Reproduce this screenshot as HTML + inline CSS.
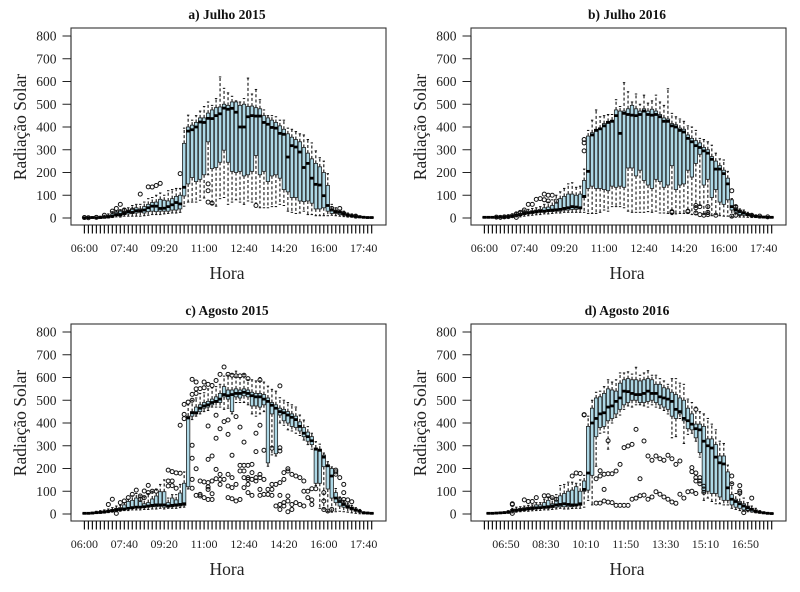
<!DOCTYPE html>
<html lang="pt">
<head>
<meta charset="utf-8">
<title>Radiação Solar</title>
<style>
html,body{margin:0;padding:0;background:#fff;}
svg{display:block;font-family:"Liberation Serif",serif;filter:blur(0.3px);}
.tit{font-size:13.5px;font-weight:bold;fill:#111;text-anchor:middle;}
.axt{font-size:17.5px;fill:#222;text-anchor:middle;}
.yl{font-size:13.5px;fill:#222;text-anchor:end;}
.xl{font-size:12px;fill:#222;text-anchor:middle;}
</style>
</head>
<body>
<svg id="chart" width="800" height="592" viewBox="0 0 800 592" xmlns="http://www.w3.org/2000/svg">
<rect x="0" y="0" width="800" height="592" fill="#fff"/>
<g>
<text class="tit" x="227" y="19">a) Julho 2015</text>
<text class="tit" x="627" y="19">b) Julho 2016</text>
<text class="tit" x="227" y="315">c) Agosto 2015</text>
<text class="tit" x="627" y="315">d) Agosto 2016</text>
</g>
<g>
<text class="axt" x="227" y="279">Hora</text>
<text class="axt" x="627" y="279">Hora</text>
<text class="axt" x="227" y="575">Hora</text>
<text class="axt" x="627" y="575">Hora</text>
<text class="axt" transform="translate(26,127) rotate(-90)">Radiação Solar</text>
<text class="axt" transform="translate(426,127) rotate(-90)">Radiação Solar</text>
<text class="axt" transform="translate(26,423) rotate(-90)">Radiação Solar</text>
<text class="axt" transform="translate(426,423) rotate(-90)">Radiação Solar</text>
</g>
</svg>
<script>
// Shared axis data
const yTickValues = [0,100,200,300,400,500,600,700,800];
const boxCount = 73;
const xLabelsJuly = ['06:00','07:40','09:20','11:00','12:40','14:20','16:00','17:40'];
const xLabelIndexJuly = [0,10,20,30,40,50,60,70];
const xLabelsAug16 = ['06:50','08:30','10:10','11:50','13:30','15:10','16:50'];
const xLabelIndexAug16 = [6,16,26,36,46,56,66];

// a) Julho 2015
const a_low = [0,0,0,0,0,0,0,2,5,4,8,8,8,8,8,10,12,15,15,15,18,20,22,22,25,
52,70,70,70,78,88,190,60,52,85,90,60,70,80,70,60,75,70,65,45,45,45,50,50,60,55,30,25,20,22,30,15,15,10,10,10,10,
12,10,8,6,4,3,2,1,0,0,0];
const a_q1 = [0,0,1,0,1,1,2,5,10,8,15,18,20,22,25,22,28,30,28,30,30,30,35,35,40,
97,150,178,160,170,190,335,217,222,245,298,245,205,200,205,185,190,205,275,190,205,160,185,190,175,125,115,90,90,75,72,75,65,40,40,45,30,
20,20,15,12,8,5,4,2,1,1,1];
const a_median = [1,1,2,1,2,3,5,8,15,15,20,28,25,32,32,35,45,52,52,42,43,50,58,68,62,
135,382,388,400,422,420,438,437,450,458,483,478,482,465,400,400,445,450,448,448,420,412,398,395,372,368,268,318,312,290,222,240,175,148,145,98,55,
35,28,25,18,12,10,6,5,3,2,2];
const a_q3 = [3,3,4,2,5,8,12,18,25,30,30,35,38,45,40,50,60,68,70,82,78,75,85,95,100,
328,400,408,420,440,440,461,475,485,488,500,495,510,510,495,500,490,492,485,480,450,440,430,420,405,390,370,355,345,335,310,285,260,240,225,200,143,
40,35,30,25,18,14,10,8,5,4,3];
const a_high = [4,4,6,4,8,12,18,28,30,35,40,45,55,60,60,70,85,90,100,110,100,120,125,130,130,
395,452,430,450,470,490,510,495,525,620,570,550,535,515,510,525,615,545,565,520,475,450,450,445,430,430,395,390,380,370,365,345,330,295,265,250,195,
60,45,35,30,22,18,14,10,7,5,4];
const a_outliers = [[0,2],[1,1],[3,3],[5,12],[7,30],[8,42],[9,60],[9,28],[10,35],[12,35],[14,105],[16,137],[17,136],[18,143],[19,152],[24,195],[31,150],[31,120],[31,70],[32,65],[43,55],[62,42],[64,42],[65,20],[68,8]];

// b) Julho 2016
const b_low = [1,1,1,1,1,1,2,3,5,5,8,10,12,14,15,18,18,20,22,22,25,25,25,25,25,
25,20,20,20,25,35,30,50,50,50,45,30,25,25,25,25,28,25,30,22,22,20,15,18,20,20,20,15,15,55,15,15,10,15,10,8,8,
5,4,4,4,3,2,2,1,1,1,1];
const b_q1 = [2,2,2,2,3,3,3,5,8,10,15,18,20,22,25,25,28,28,30,30,35,35,38,38,40,
90,130,140,130,130,125,120,140,135,140,135,220,220,185,210,165,145,130,170,160,135,145,230,125,145,150,210,180,240,280,145,170,90,125,70,60,80,
35,25,15,12,10,6,4,3,3,2,2];
const b_median = [3,3,3,4,4,4,5,8,12,15,20,22,25,28,30,30,33,35,36,38,42,45,50,48,45,
95,205,365,385,392,405,420,425,450,372,460,455,452,450,455,470,455,452,455,445,425,425,405,400,385,378,350,335,318,310,295,285,258,215,215,195,150,
50,35,28,22,15,10,7,5,4,3,3];
const b_q3 = [4,4,4,5,5,6,8,12,18,20,28,30,32,35,38,45,48,55,65,85,95,105,105,100,105,
165,360,375,390,395,415,425,430,475,470,470,480,495,480,470,480,470,478,470,455,440,435,415,410,395,390,365,350,340,330,310,300,270,250,230,210,175,
80,45,35,28,20,14,10,7,5,4,4];
const b_high = [5,5,6,6,7,9,12,18,25,28,35,38,42,45,50,60,70,80,100,115,130,150,155,135,140,
215,385,430,475,445,450,455,455,520,490,595,555,510,545,500,540,505,515,540,510,495,568,460,445,435,425,405,400,385,350,345,335,320,285,260,255,205,
85,55,40,35,25,18,14,10,7,6,5];
const b_outliers = [[3,4],[4,3],[5,5],[6,6],[7,10],[8,18],[8,3],[9,25],[10,35],[11,60],[12,60],[13,82],[14,85],[15,105],[15,80],[16,100],[16,75],[17,100],[18,75],[25,345],[25,330],[25,295],[47,28],[47,25],[51,30],[51,28],[53,55],[53,45],[53,22],[54,50],[54,15],[55,12],[56,50],[56,25],[56,15],[58,12],[62,120],[62,8],[63,50],[63,12],[64,18],[67,12],[69,8],[71,5]];

// c) Agosto 2015
const c_low = [0,0,1,2,3,4,6,8,10,12,15,15,18,18,18,20,20,22,22,25,22,25,25,25,28,
30,110,415,430,440,450,455,470,470,470,460,465,440,490,490,490,480,440,430,440,450,210,260,255,400,390,370,365,355,345,325,305,285,125,25,22,10,
8,10,12,10,8,5,3,1,1,1,0];
const c_q1 = [1,1,2,3,4,6,8,12,14,16,18,22,25,26,28,28,30,32,32,34,30,30,32,34,35,
38,120,430,440,450,465,470,480,490,490,515,505,450,515,510,520,515,475,475,470,480,225,440,265,435,410,400,385,380,365,340,320,305,135,135,208,110,
70,50,35,30,25,18,12,8,3,2,1];
const c_median = [3,3,4,6,7,9,12,15,18,20,22,25,28,30,30,32,35,38,40,40,40,35,38,40,42,
45,422,445,445,465,475,480,490,495,505,525,520,525,530,530,535,530,520,515,515,505,495,478,465,450,445,435,425,415,385,355,340,322,285,280,250,212,
167,70,55,42,32,25,18,12,5,4,3];
const c_q3 = [4,4,6,8,10,13,16,20,25,28,40,55,60,70,55,45,50,66,79,98,98,50,70,62,92,
135,430,450,470,480,490,495,505,515,530,560,545,545,550,545,550,545,535,530,530,525,510,490,480,465,460,450,440,430,405,380,360,340,290,285,259,215,
200,94,65,50,40,30,22,15,8,6,5];
const c_high = [6,6,8,12,15,18,22,28,35,38,50,65,80,90,80,75,90,100,110,130,150,70,85,85,130,
185,480,500,510,530,533,550,555,560,570,606,610,615,628,600,614,590,590,585,600,580,562,548,540,511,500,490,480,470,435,413,384,355,318,307,268,230,
207,112,75,60,48,38,28,20,10,8,6];
const c_outliers = [[6,42],[7,65],[8,3],[9,50],[10,57],[11,72],[12,86],[13,105],[14,79],[14,65],[15,101],[15,72],[16,126],[16,94],[17,100],[18,100],[21,193],[22,186],[23,181],[24,179],[21,145],[22,145],[21,123],[22,125],[23,113],[24,390],[25,482],[25,438],[25,419],
[27,302],[27,245],[27,152],[27,113],[28,199],[27,592],[28,580],[26,492],[27,526],[27,500],[28,550],[28,530],[29,551],[30,555],[30,580],[31,570],[32,565],[33,587],[34,614],[35,646],[36,614],[37,610],[38,607],[39,607],[40,610],[41,595],[44,589],
[31,387],[33,434],[33,333],[34,375],[35,406],[36,413],[36,350],[38,428],[39,382],[40,316],[43,355],[43,274],[44,390],[45,280],[47,289],[49,563],[49,291],[49,277],
[28,82],[29,86],[29,79],[30,72],[31,64],[32,64],[32,89],[31,108],[31,119],[29,145],[30,141],[31,138],[32,145],[31,240],[32,255],[33,196],[34,174],[34,152],[33,155],[34,130],[35,152],[36,174],[36,123],[37,160],[37,116],[38,130],[36,72],[37,67],[38,57],[39,64],[37,258],[39,214],[40,214],[41,214],[42,218],[39,189],[40,189],[40,160],[41,160],[41,152],[42,152],[42,182],[43,160],[43,145],[44,174],[44,160],[40,116],[41,130],[42,82],[41,94],[44,108],[44,82],[45,86],[45,152],[46,108],[47,108],[47,82],[46,86],[47,130],[48,130],[49,138],[49,82],[50,182],[50,152],[51,199],[51,189],[52,174],[53,167],[54,160],[51,79],[50,50],[49,42],[48,35],[49,20],[50,35],[51,10],[52,20],[53,50],[52,42],[51,57],[54,42],[55,35],[56,100],[56,72],[57,62],[57,42],[55,145],[55,100],[57,111],[58,111],[60,94],[60,57],[60,20],[61,13],[62,20],[63,193],[63,185],[63,175],[64,160],[65,130],[65,94],[65,64],[64,64],[66,62],[67,54]];

// d) Agosto 2016
const d_low = [null,1,1,1,2,3,3,5,8,10,12,12,14,15,16,18,18,20,22,25,22,22,24,25,25,
30,60,40,210,355,360,285,400,425,435,460,475,470,480,480,475,470,480,470,465,455,440,335,340,420,310,350,355,320,250,60,70,55,45,45,40,40,
25,20,15,12,10,8,5,3,2,1,1];
const d_q1 = [null,2,2,3,3,4,5,10,12,14,16,18,20,22,24,25,25,28,30,32,32,32,32,35,38,
100,105,170,340,380,385,410,420,440,460,480,490,500,500,490,490,495,500,490,480,470,460,430,420,440,410,375,370,335,270,95,100,90,90,75,60,60,
40,30,25,18,15,10,7,4,3,2,1];
const d_median = [null,3,3,4,5,6,8,15,16,18,20,23,25,27,28,30,32,35,40,42,45,42,40,40,45,
108,180,400,420,440,445,470,475,495,510,540,538,530,525,525,530,540,530,530,515,510,505,495,460,450,420,410,395,375,370,320,300,290,250,225,220,115,
65,55,45,35,28,20,12,8,5,3,2];
const d_q3 = [null,4,4,5,6,8,12,20,22,25,28,30,32,40,40,50,60,45,60,80,90,100,105,120,100,
145,385,465,510,515,530,550,545,540,575,590,595,590,590,585,590,595,590,570,570,555,550,535,525,510,500,465,440,395,395,385,330,330,305,255,255,185,
85,65,55,45,35,25,18,10,7,5,3];
const d_high = [null,5,5,6,8,10,15,25,30,32,35,38,40,50,50,65,75,70,85,125,130,140,140,135,150,
170,430,500,535,540,560,590,580,590,620,620,625,615,645,610,620,630,610,610,595,585,570,595,595,575,570,505,490,470,450,440,420,395,370,320,310,215,
135,90,85,70,50,35,25,15,10,7,5];
const d_outliers = [[7,45],[7,42],[7,3],[10,62],[11,55],[12,55],[13,72],[15,80],[16,80],[17,72],[18,65],[22,167],[23,180],[24,178],[25,437],[25,435],
[28,48],[29,48],[30,57],[31,52],[32,50],[33,38],[34,38],[35,38],[36,38],[37,65],[38,70],[39,80],[40,83],[41,65],[42,75],[43,98],[44,87],[45,75],[46,65],[47,53],[48,47],[49,87],[50,70],[51,98],[52,100],
[28,155],[29,190],[29,167],[30,175],[31,177],[32,177],[33,189],[34,218],[30,108],[31,322],
[35,292],[36,299],[37,306],[38,372],[40,321],[39,155],[41,255],[42,236],[43,255],[44,243],[45,236],[46,258],[47,243],[48,218],[49,233],
[52,204],[52,186],[53,180],[53,160],[53,145],[54,160],[54,145],[54,133],[55,122],[55,110],[55,95],[53,90],[53,460],[62,167],[62,133],[64,125],[64,100],[64,92],[65,6],[67,70],[66,25]];

const SVGNS = 'http://www.w3.org/2000/svg';
const svg = document.getElementById('chart');

function el(parent, tag, attrs) {
  const e = document.createElementNS(SVGNS, tag);
  for (const k in attrs) e.setAttribute(k, attrs[k]);
  parent.appendChild(e);
  return e;
}

function drawPanel(name, ox, oy, low, q1, median, q3, high, outliers, xLabels, xLabelIndex, labelShift) {
  const xScale = i => ox + 84.4 + 3.99 * i;
  const yScale = v => oy + 218 - 0.2275 * v;
  const halfBox = 1.7, halfCap = 1.2;

  const panel = el(svg, 'g', {});
  
  

  // Boxplots
  for (let i = 0; i < boxCount; i++) {
    if (median[i] === null) continue;
    const x = xScale(i);
    const box = el(panel, 'g', {});
    
    
    el(box, 'line', {x1:x, x2:x, y1:yScale(q3[i]), y2:yScale(high[i]), stroke:'#111', 'stroke-width':1.1, 'stroke-dasharray':'3 2.2'});
    el(box, 'line', {x1:x, x2:x, y1:yScale(q1[i]), y2:yScale(low[i]), stroke:'#111', 'stroke-width':1.1, 'stroke-dasharray':'3 2.2'});
    el(box, 'line', {x1:x-halfCap, x2:x+halfCap, y1:yScale(high[i]), y2:yScale(high[i]), stroke:'#111', 'stroke-width':1});
    el(box, 'line', {x1:x-halfCap, x2:x+halfCap, y1:yScale(low[i]), y2:yScale(low[i]), stroke:'#111', 'stroke-width':1});
    el(box, 'rect', {x:x-halfBox, y:yScale(q3[i]), width:halfBox*2, height:Math.max(0.3, yScale(q1[i])-yScale(q3[i])), fill:'#add8e6', stroke:'#222', 'stroke-width':0.8});
    el(box, 'line', {x1:x-halfBox-0.2, x2:x+halfBox+0.2, y1:yScale(median[i]), y2:yScale(median[i]), stroke:'#000', 'stroke-width':2.8});
  }

  // Outliers
  const outGroup = el(panel, 'g', {});
  
  
  outliers.forEach(function (p) {
    const c = el(outGroup, 'circle', {cx:xScale(p[0]), cy:yScale(p[1]), r:2, fill:'none', stroke:'#111', 'stroke-width':1});
    
    
  });

  // Frame
  const frame = el(panel, 'rect', {x:ox+71, y:oy+28, width:315, height:197, fill:'none', stroke:'#333', 'stroke-width':1.1});
  
  

  // Y axis
  const yAxis = el(panel, 'g', {});
  
  
  el(yAxis, 'line', {x1:ox+71, x2:ox+71, y1:yScale(0), y2:yScale(800), stroke:'#222', 'stroke-width':1});
  yTickValues.forEach(function (v) {
    el(yAxis, 'line', {x1:ox+62.5, x2:ox+71, y1:yScale(v), y2:yScale(v), stroke:'#222', 'stroke-width':1});
    const t = el(yAxis, 'text', {x:ox+56.5, y:yScale(v)+4.5, class:'yl'});
    t.textContent = String(v);
    
    
  });

  // X axis
  const xAxis = el(panel, 'g', {});
  
  
  for (let i = 0; i < boxCount; i++) {
    el(xAxis, 'line', {x1:xScale(i), x2:xScale(i), y1:oy+225, y2:oy+233.5, stroke:'#111', 'stroke-width':1.2});
  }
  xLabels.forEach(function (lab, k) {
    const t = el(xAxis, 'text', {x:xScale(xLabelIndex[k])+labelShift, y:oy+252, class:'xl'});
    t.textContent = lab;
    
    
  });
}

drawPanel('a', 0, 0, a_low, a_q1, a_median, a_q3, a_high, a_outliers, xLabelsJuly, xLabelIndexJuly, 0);
drawPanel('b', 400, 0, b_low, b_q1, b_median, b_q3, b_high, b_outliers, xLabelsJuly, xLabelIndexJuly, 0);
drawPanel('c', 0, 296, c_low, c_q1, c_median, c_q3, c_high, c_outliers, xLabelsJuly, xLabelIndexJuly, 0);
drawPanel('d', 400, 296, d_low, d_q1, d_median, d_q3, d_high, d_outliers, xLabelsAug16, xLabelIndexAug16, -2.4);
</script>
</body>
</html>
